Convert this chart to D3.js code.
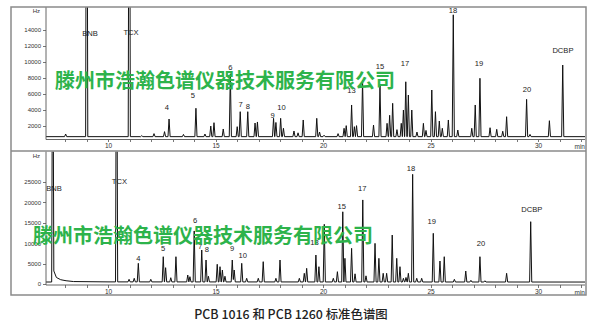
<!DOCTYPE html>
<meta charset="utf-8">
<style>
body { margin: 0; background: #fff; }
svg { display: block; }
.axis text { font-family: "Liberation Sans", Arial, sans-serif; fill: #333; }
.axis line, .axis path { stroke: #555; stroke-width: 0.8px; shape-rendering: crispEdges; }
.frame { fill: none; stroke: #8a8a8a; stroke-width: 1.5px; }
.trace { fill: none; stroke: #111; stroke-width: 1px; }
.plab { font-family: "Liberation Sans", Arial, sans-serif; font-size: 7.6px; fill: #222; text-anchor: middle; }
.mark { font-family: "Noto Sans CJK SC", sans-serif; font-weight: 700; font-size: 20px; fill: #2db34b; }
.caption { font-family: "Noto Sans CJK SC", sans-serif; font-size: 12.4px; font-weight: 500; fill: #222; text-anchor: middle; }
</style>
<svg width="600" height="334"></svg>
<script src="https://d3js.org/d3.v7.min.js"></script>
<script>

// PCB 1016 peaks: [retention time (min), height (Hz)]
var peaks1016 = [
  [8.03, 950], [9.01, 60000], [10.99, 60000], [11.57, 750], [12.14, 1000], [12.63, 1250],
  [12.84, 2830], [13.51, 900], [14.09, 4180], [14.51, 950], [14.78, 1950], [14.93, 2370],
  [15.36, 1580], [15.69, 8500], [16.01, 1870], [16.15, 3750], [16.5, 3750], [16.84, 2330],
  [16.95, 2460], [17.7, 2920], [17.81, 2400], [18.03, 2920], [18.16, 1670], [18.65, 1330],
  [18.84, 1100], [19.08, 2710], [19.71, 2920], [19.84, 1200], [20.05, 800], [20.7, 1000],
  [20.98, 1670], [21.08, 2000], [21.33, 4590], [21.46, 1870], [21.56, 2000], [21.84, 7700],
  [22.35, 2080], [22.65, 6970], [22.98, 2290], [23.1, 3300], [23.24, 4800], [23.44, 1500],
  [23.64, 2290], [23.74, 3960], [23.85, 7500], [23.97, 5840], [24.13, 3960], [24.37, 1200],
  [24.67, 2290], [24.79, 1400], [25.06, 6470], [25.23, 3750], [25.41, 2580], [25.55, 1670],
  [25.83, 2710], [26.06, 15900], [26.27, 1450], [26.92, 1670], [27.08, 4590], [27.3, 7940],
  [27.77, 1740], [28.08, 1540], [28.36, 1300], [28.54, 3120], [29.47, 5300], [29.63, 900],
  [30.53, 2620], [31.15, 9600]
];
var base1016 = [[7.0, 620], [33.0, 620]];

// PCB 1260 peaks
var peaks1260 = [
  [7.43, 80000], [10.4, 80000], [10.98, 1150], [11.22, 1400], [11.41, 5070], [11.99, 1150],
  [12.57, 6690], [12.68, 4000], [12.92, 1540], [13.16, 6690], [13.71, 2200], [13.81, 1790],
  [14.01, 13000], [14.36, 8330], [14.56, 5880], [14.67, 1900], [15.08, 4830], [15.21, 4240],
  [15.32, 3430], [15.44, 1900], [15.78, 5880], [15.87, 3430], [16.22, 5070], [16.45, 1400],
  [16.99, 1400], [17.22, 5470], [17.81, 1400], [18.0, 5880], [18.9, 1400], [19.13, 2620],
  [19.24, 3840], [19.67, 7100], [19.81, 4240], [20.06, 14630], [20.48, 1400], [20.67, 3020],
  [20.92, 17700], [21.02, 6290], [21.33, 8740], [21.49, 2500], [21.85, 20600], [22.0, 2000],
  [22.42, 9960], [22.6, 6290], [22.8, 2620], [22.96, 2620], [23.22, 12000], [23.43, 6290],
  [23.58, 4240], [23.74, 1400], [23.86, 1600], [23.97, 2620], [24.17, 26880], [24.36, 1400],
  [24.59, 1400], [25.13, 12420], [25.44, 5630], [25.64, 6690], [26.11, 1150], [26.64, 3180],
  [26.88, 900], [27.3, 6690], [27.53, 800], [28.54, 2620], [29.66, 15270]
];
// baseline incl. solvent tail after BNB
var base1260 = [[7.0, 490], [7.40, 490], [7.48, 3200], [7.6, 1600], [7.8, 1050], [8.05, 800],
  [8.4, 600], [10.0, 520], [33.0, 480]];

// peak labels: [text, time, Hz]
var labels1016 = [["BNB", 9.16, 13620], ["TCX", 11.07, 13740], ["4", 12.74, 4340], ["5", 13.95, 5840],
  ["6", 15.69, 9350], ["7", 16.17, 4720], ["8", 16.5, 4460], ["9", 17.66, 3250], ["10", 18.07, 4300],
  ["13", 21.33, 6470], ["15", 22.65, 9390], ["17", 23.81, 9860], ["18", 26.05, 16500],
  ["19", 27.26, 9860], ["20", 29.49, 6600], ["DCBP", 31.16, 11490]];
var labels1260 = [["BNB", 7.49, 23520], ["TCX", 10.53, 25240], ["4", 11.41, 6370], ["5", 12.56, 8820],
  ["6", 14.05, 15680], ["7", 14.28, 9310], ["8", 14.6, 8580], ["9", 15.77, 8820], ["10", 16.27, 7100],
  ["13", 19.6, 10290], ["15", 20.87, 19110], ["17", 21.83, 23520], ["18", 24.09, 28350],
  ["19", 25.06, 15260], ["20", 27.35, 9970], ["DCBP", 29.71, 18300]];

var ticks1016 = [2000, 4000, 6000, 8000, 10000, 12000, 14000];
var ticks1260 = [0, 5000, 10000, 15000, 20000, 25000];
var timeTicks = d3.range(8, 33);
var watermark = "滕州市浩瀚色谱仪器技术服务有限公司";
var caption = "PCB 1016 和 PCB 1260 标准色谱图";

var svg = d3.select("svg");
var hw = 0.05; // peak half width, min

var x = d3.scaleLinear().domain([10, 30]).range([108, 538]);

var panels = [
  {peaks: peaks1016, base: base1016, labels: labels1016, ticks: ticks1016,
   y: d3.scaleLinear().domain([0, 16000]).range([141.6, 14.0]),
   top: 7, bottom: 139.5, mark: [55, 88]},
  {peaks: peaks1260, base: base1260, labels: labels1260, ticks: ticks1260,
   y: d3.scaleLinear().domain([0, 25000]).range([284, 182]),
   top: 151.5, bottom: 285, mark: [33, 243]}
];

function trace(peaks, base) {
  var bl = d3.scaleLinear().domain(base.map(d => d[0])).range(base.map(d => d[1])).clamp(true);
  var ts = base.map(d => d[0]);
  peaks.forEach(p => ts.push(p[0] - hw, p[0], p[0] + hw));
  ts.sort(d3.ascending);
  return ts.map(t => [t, bl(t) + d3.sum(peaks, p =>
    Math.max(0, (p[1] - bl(p[0])) * (1 - Math.abs(t - p[0]) / hw)))]);
}

var left = 46, right = 585;

panels.forEach(function(p, i) {
  var g = svg.append("g");

  g.append("clipPath").attr("id", "clip" + i)
    .append("rect").attr("x", left).attr("y", p.top)
    .attr("width", right - left).attr("height", p.bottom - p.top);

  g.append("path")
    .datum(trace(p.peaks, p.base))
    .attr("class", "trace")
    .attr("clip-path", "url(#clip" + i + ")")
    .attr("d", d3.line().x(d => x(d[0])).y(d => p.y(d[1])));

  // y axis
  var ya = g.append("g").attr("class", "axis")
    .attr("transform", "translate(" + left + ",0)")
    .call(d3.axisLeft(p.y).tickValues(p.ticks).tickFormat(d3.format("d"))
      .tickSize(3).tickPadding(2).tickSizeOuter(0));
  ya.select(".domain").remove();
  ya.selectAll("text").style("font-size", "6px");
  g.append("line")
    .attr("x1", left).attr("x2", left).attr("y1", p.top).attr("y2", p.bottom)
    .attr("stroke", "#555").attr("stroke-width", 0.9);
  g.append("text").attr("x", 40).attr("y", p.top + 6)
    .attr("text-anchor", "end").style("font-size", "6px").style("fill", "#333")
    .style("font-family", "Liberation Sans, Arial, sans-serif").text("Hz");

  // x axis
  var xa = g.append("g").attr("class", "axis")
    .attr("transform", "translate(0," + p.bottom + ")")
    .call(d3.axisBottom(x).tickValues(timeTicks).tickSize(2.5).tickPadding(1.5).tickSizeOuter(0)
      .tickFormat(d => d % 5 === 0 ? d : ""));
  xa.select(".domain").remove();
  xa.selectAll("text").style("font-size", "6.5px");
  g.append("line")
    .attr("x1", left).attr("x2", right).attr("y1", p.bottom).attr("y2", p.bottom)
    .attr("stroke", "#555").attr("stroke-width", 0.9);
  g.append("text").attr("x", 585).attr("y", p.bottom + 9.5).attr("text-anchor", "end")
    .style("font-size", "6.5px").style("fill", "#333")
    .style("font-family", "Liberation Sans, Arial, sans-serif").text("min");

  // peak labels
  g.selectAll(".plab").data(p.labels).enter().append("text")
    .attr("class", "plab")
    .attr("x", d => x(d[1]))
    .attr("y", d => p.y(d[2]))
    .attr("dy", "0.35em")
    .text(d => d[0]);

  // watermark
  g.append("text").attr("class", "mark")
    .attr("x", p.mark[0]).attr("y", p.mark[1])
    .text(watermark);
});

// frame
svg.append("rect").attr("class", "frame")
  .attr("x", 11).attr("y", 7).attr("width", 575).attr("height", 288);
svg.append("line").attr("class", "frame")
  .attr("x1", 11).attr("x2", 586).attr("y1", 151).attr("y2", 151);

svg.append("text").attr("class", "caption")
  .attr("x", 291).attr("y", 319).text(caption);

</script>
